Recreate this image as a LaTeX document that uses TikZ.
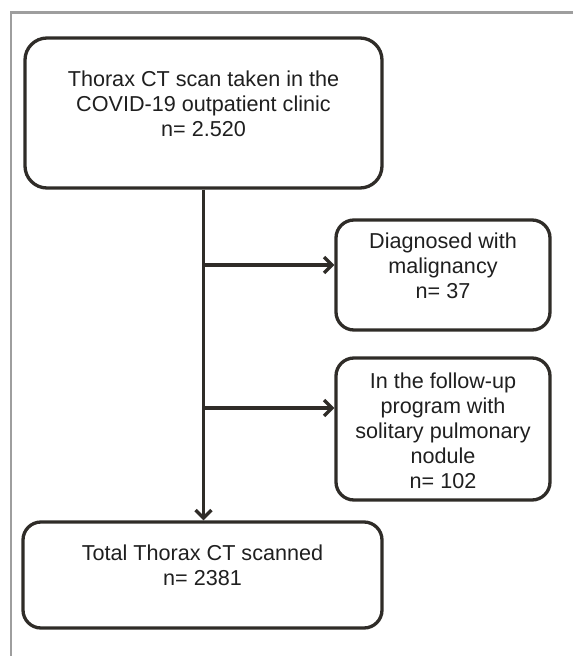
\documentclass[tikz,border=0pt]{standalone}
\usepackage{fontspec}
\setmainfont{Liberation Sans}
\usetikzlibrary{arrows.meta}
\definecolor{linecol}{HTML}{2F2C28}
\definecolor{framecol}{HTML}{9E9E9E}

\begin{document}
\begin{tikzpicture}[x=1pt, y=-1pt,
  box/.style={draw=linecol, line width=3.3pt, rounded corners=18pt, inner sep=0pt},
  txt/.style={align=center, font=\fontsize{21.6}{25}\selectfont, text=black!88},
  flow/.style={draw=linecol, line width=3.3pt, -{Straight Barb[length=8pt,width=16pt]}}]
\useasboundingbox (0,0) rectangle (573,656);
% frame
\draw[framecol, line width=2.5pt](11,656)--(11,12.5)--(573,12.5);
% boxes
\node[box, rounded corners=22pt, minimum width=357pt, minimum height=150pt] (scan) at (203.5,113) {};
\node[txt] (scantxt) at ([yshift=9.5pt]scan.center) {Thorax CT scan taken in the\\COVID-19 outpatient clinic\\n= 2.520};
\node[box, minimum width=214pt, minimum height=110pt] (diag) at (443,275) {};
\node[txt] (diagtxt) at ([yshift=9.5pt]diag.center) {Diagnosed with\\malignancy\\n= 37};
\node[box, minimum width=214pt, minimum height=142pt] (follow) at (443,429) {};
\node[txt] (followtxt) at ([yshift=-2pt]follow.center) {In the follow-up\\program with\\solitary pulmonary\\nodule\\n= 102};
\node[box, minimum width=359pt, minimum height=106pt] (total) at (202.5,575) {};
\node[txt] (totaltxt) at ([yshift=10pt]total.center) {Total Thorax CT scanned\\n= 2381};
% connectors
\coordinate (j1) at (203,265);
\coordinate (j2) at (203,408);
\draw[flow](scan.south)--(scan.south |- total.north);
\draw[flow](j1)--(j1 -| diag.west);
\draw[flow](j2)--(j2 -| follow.west);
\end{tikzpicture}
\end{document}
